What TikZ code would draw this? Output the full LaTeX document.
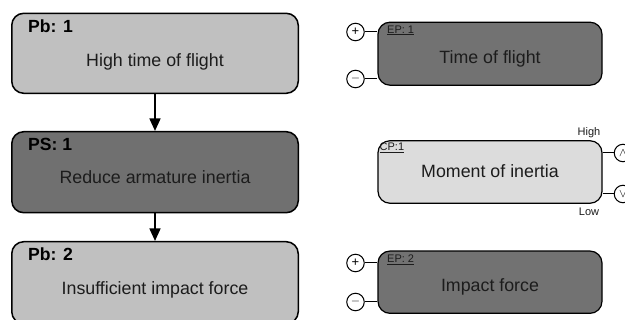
\documentclass[tikz,border=0pt]{standalone}
\usepackage{fontspec}
\setmainfont{Liberation Sans}
\usetikzlibrary{arrows.meta}
\definecolor{pbfill}{RGB}{192,192,192}
\definecolor{psfill}{RGB}{112,112,112}
\definecolor{epfill}{RGB}{114,114,114}
\definecolor{cpfill}{RGB}{220,220,220}
\definecolor{ink}{RGB}{28,28,28}
\begin{document}
\begin{tikzpicture}[x=1pt,y=-1pt,
  leftbox/.style={draw=black, line width=1.5pt, rounded corners=12pt, minimum width=286.5pt, inner sep=0pt},
  rightbox/.style={draw=black, line width=1.2pt, rounded corners=12pt, minimum width=224pt, minimum height=63pt, inner sep=0pt},
  bigtext/.style={font=\fontsize{17.8}{20}\selectfont, text=ink, anchor=base, inner sep=0pt},
  tagtext/.style={font=\bfseries\fontsize{17.6}{20}\selectfont, text=black, anchor=base west, inner sep=0pt},
  smalltag/.style={font=\fontsize{11}{13}\selectfont, text=ink, anchor=base west, inner sep=0pt},
  sidetext/.style={font=\fontsize{11}{13}\selectfont, text=ink, anchor=base, inner sep=0pt},
  port/.style={draw=black, circle, line width=1pt, minimum size=17.5pt, inner sep=0pt, fill=white, font=\fontsize{13}{13}\selectfont},
  flow/.style={line width=1.5pt, -{Triangle[length=12.5pt,width=11pt]}},
  wire/.style={line width=1pt}]
\clip (0,0) rectangle (625,320);
\fill[white] (0,0) rectangle (625,320);

% left column
\node[leftbox, fill=pbfill, minimum height=80pt] (pb1) at (155,53.3) {};
\node[leftbox, fill=psfill, minimum height=81pt] (ps1) at (155,172.2) {};
\node[leftbox, fill=pbfill, minimum height=82pt] (pb2) at (155,282.7) {};

\node[tagtext] (pb1tag) at (28,32.3) {Pb: 1};
\node[bigtext] (pb1txt) at (155,66.7) {High time of flight};
\node[tagtext] (ps1tag) at (28,150.7) {PS: 1};
\node[bigtext] (ps1txt) at (155,184) {Reduce armature inertia};
\node[tagtext] (pb2tag) at (28,260.7) {Pb: 2};
\node[bigtext] (pb2txt) at (155,295) {Insufficient impact force};

\draw[flow] (pb1) -- (ps1);
\draw[flow] (ps1) -- (pb2);

% right column
\node[rightbox, fill=epfill] (ep1) at (490,53.7) {};
\node[rightbox, fill=cpfill, minimum height=62.5pt] (cp1) at (490,172) {};
\node[rightbox, fill=epfill, minimum height=62.3pt] (ep2) at (490,282.2) {};

\node[smalltag] (ep1tag) at (387,33.3) {\underline{EP: 1}};
\node[bigtext] (ep1txt) at (490,63.3) {Time of flight};
\node[smalltag] (cp1tag) at (379.5,151) {\underline{CP:1}};
\node[bigtext] (cp1txt) at (490,177.7) {Moment of inertia};
\node[smalltag] (ep2tag) at (387,262.7) {\underline{EP: 2}};
\node[bigtext] (ep2txt) at (490,291.7) {Impact force};

% ports
\node[port] (ep1p) at (355.5,32) {+};
\node[port] (ep1m) at (355.5,79) {$-$};
\node[port] (ep2p) at (355.5,263) {+};
\node[port] (ep2m) at (355.5,302) {$-$};
\node[port] (cp1h) at (623,153) {$\wedge$};
\node[port] (cp1l) at (623,194) {$\vee$};

\draw[wire] (ep1p.east) -- (ep1p.east -| ep1.west);
\draw[wire] (ep1m.east) -- (ep1m.east -| ep1.west);
\draw[wire] (ep2p.east) -- (ep2p.east -| ep2.west);
\draw[wire] (ep2m.east) -- (ep2m.east -| ep2.west);
\draw[wire] (cp1h.west) -- (cp1h.west -| cp1.east);
\draw[wire] (cp1l.west) -- (cp1l.west -| cp1.east);

\node[sidetext] (high) at (589,136) {High};
\node[sidetext] (low) at (589,215.5) {Low};
\end{tikzpicture}
\end{document}
